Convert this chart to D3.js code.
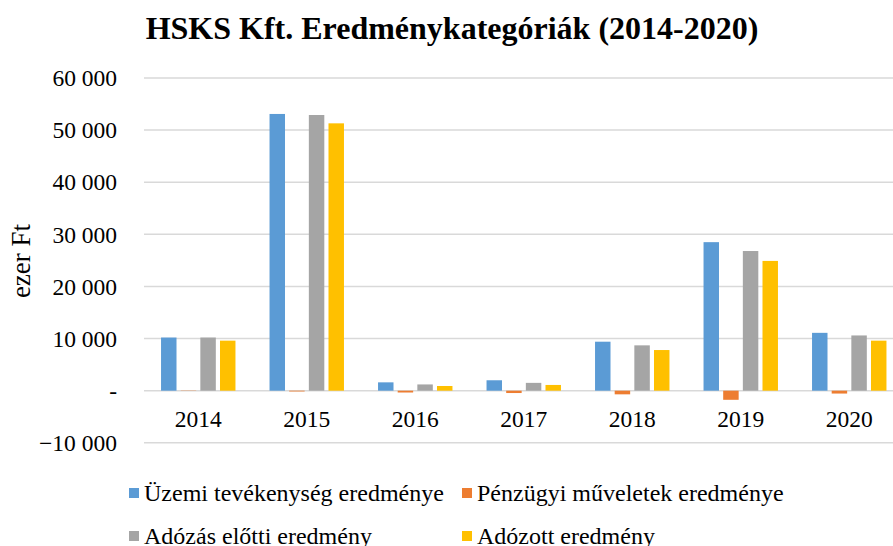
<!DOCTYPE html>
<html>
<head>
<meta charset="utf-8">
<script src="https://cdn.jsdelivr.net/npm/d3@7"></script>
<style>
  body { margin: 0; background: #fff; }
  svg text { font-family: "Liberation Serif", "Times New Roman", serif; fill: #000; }
</style>
</head>
<body>
<script>
// years and series (ezer Ft)
var years = ["2014", "2015", "2016", "2017", "2018", "2019", "2020"];
var seriesNames = ["Üzemi tevékenység eredménye", "Pénzügyi műveletek eredménye",
                   "Adózás előtti eredmény", "Adózott eredmény"];
var uzemi    = [10200, 53100, 1600, 2000, 9400, 28500, 11100];
var penzugyi = [-50, -150, -350, -450, -700, -1750, -550];
var adozasEl = [10200, 52900, 1200, 1500, 8700, 26800, 10600];
var adozott  = [9600, 51300, 900, 1100, 7800, 24900, 9600];
var yTicks = [-10000, 0, 10000, 20000, 30000, 40000, 50000, 60000];
var colors = ["#5b9bd5", "#ed7d31", "#a5a5a5", "#ffc000"];

var width = 893, height = 546;
var allSeries = [uzemi, penzugyi, adozasEl, adozott];

var svg = d3.select("body").append("svg")
    .attr("width", width)
    .attr("height", height);

var x = d3.scaleBand()
    .domain(years)
    .range([144, 903.5]);

var bw = x.bandwidth();
var x1 = d3.scaleBand()
    .domain(d3.range(4))
    .range([bw * 0.157, bw * 0.843])
    .paddingInner(0.213);

var y = d3.scaleLinear()
    .domain([-10000, 60000])
    .range([442.8, 78]);

function fmt(v) {
    if (v === 0) return "-";
    return d3.format(",")(v).replace(/,/g, " ");
}

// gridlines
svg.append("g")
    .selectAll("line")
    .data(yTicks)
    .enter()
    .append("line")
    .attr("x1", 144)
    .attr("x2", 903.5)
    .attr("y1", function(d) { return y(d); })
    .attr("y2", function(d) { return y(d); })
    .attr("stroke", "#d9d9d9")
    .attr("stroke-width", 1.5);

// y tick labels
svg.append("g")
    .selectAll("text")
    .data(yTicks)
    .enter()
    .append("text")
    .attr("x", 117)
    .attr("y", function(d) { return y(d); })
    .attr("dy", "0.35em")
    .attr("text-anchor", "end")
    .style("font-size", "23.5px")
    .text(fmt);

// bars
var group = svg.append("g")
    .selectAll("g")
    .data(years)
    .enter()
    .append("g")
    .attr("transform", function(d) { return "translate(" + x(d) + ",0)"; });

group.selectAll("rect")
    .data(function(d, i) {
        return allSeries.map(function(s, k) { return {k: k, v: s[i]}; });
    })
    .enter()
    .append("rect")
    .attr("x", function(d) { return x1(d.k); })
    .attr("width", x1.bandwidth())
    .attr("y", function(d) { return Math.min(y(d.v), y(0)); })
    .attr("height", function(d) { return Math.abs(y(d.v) - y(0)); })
    .attr("fill", function(d) { return colors[d.k]; });

// x labels
svg.append("g")
    .selectAll("text")
    .data(years)
    .enter()
    .append("text")
    .attr("x", function(d) { return x(d) + bw / 2; })
    .attr("y", 427)
    .attr("text-anchor", "middle")
    .style("font-size", "23.5px")
    .text(function(d) { return d; });

// title
svg.append("text")
    .attr("x", 452)
    .attr("y", 39)
    .attr("text-anchor", "middle")
    .style("font-size", "32px")
    .style("font-weight", "bold")
    .text("HSKS Kft. Eredménykategóriák (2014-2020)");

// y axis title
svg.append("text")
    .attr("transform", "translate(30,261) rotate(-90)")
    .attr("text-anchor", "middle")
    .style("font-size", "27px")
    .text("ezer Ft");

// legend
var legPos = [[129, 493], [462, 493], [129, 536], [462, 536]];
var leg = svg.append("g")
    .selectAll("g")
    .data(seriesNames)
    .enter()
    .append("g")
    .attr("transform", function(d, i) { return "translate(" + legPos[i][0] + "," + legPos[i][1] + ")"; });

leg.append("rect")
    .attr("x", 0)
    .attr("y", -5)
    .attr("width", 10)
    .attr("height", 10)
    .attr("fill", function(d, i) { return colors[i]; });

leg.append("text")
    .attr("x", 15)
    .attr("dy", "0.35em")
    .style("font-size", "24px")
    .text(function(d) { return d; });
</script>
</body>
</html>
